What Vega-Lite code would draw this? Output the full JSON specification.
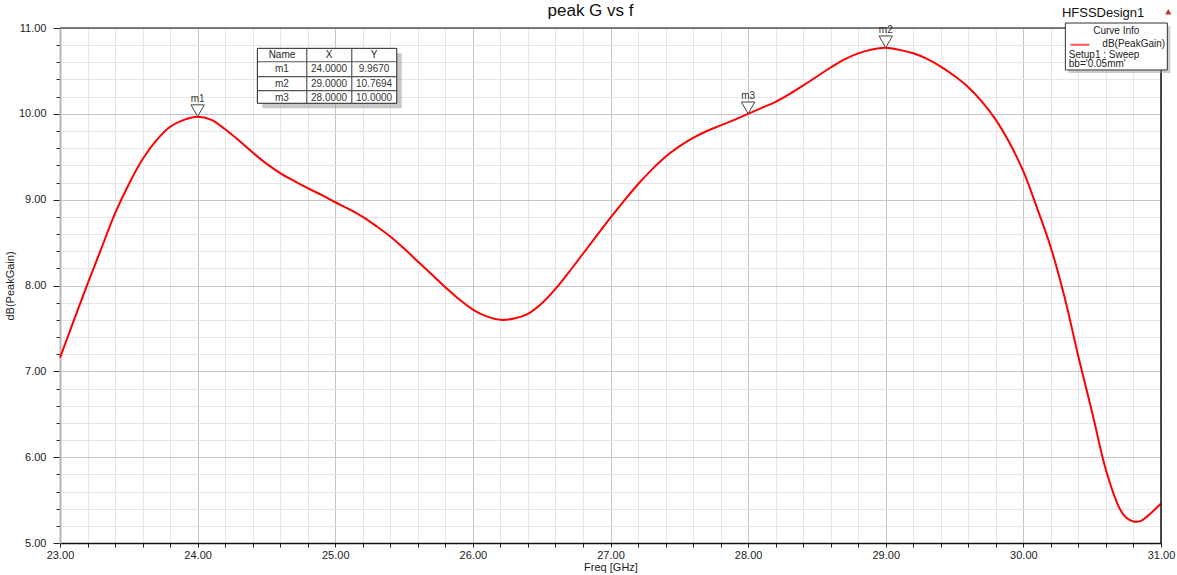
{
  "$schema": "https://vega.github.io/schema/vega-lite/v6.json",
  "width": 1101,
  "height": 515,
  "autosize": {"type": "none"},
  "padding": {"left": 60, "top": 28, "right": 16, "bottom": 32},
  "background": "white",
  "config": {
    "font": "Liberation Sans",
    "view": {"stroke": null},
    "text": {"font": "Liberation Sans"}
  },
  "title": {
    "text": "peak G vs f",
    "fontSize": 17,
    "fontWeight": "normal",
    "color": "#111",
    "anchor": "middle",
    "frame": "group",
    "baseline": "alphabetic",
    "offset": -15,
    "dx": -20,
    "dy": 11
  },
  "datasets": {
    "gain": [
      {"f": 23.0, "g": 7.16}, {"f": 23.1, "g": 7.59}, {"f": 23.2, "g": 8.02}, {"f": 23.3, "g": 8.43},
      {"f": 23.4, "g": 8.84}, {"f": 23.5, "g": 9.18}, {"f": 23.6, "g": 9.47}, {"f": 23.7, "g": 9.69},
      {"f": 23.8, "g": 9.85}, {"f": 23.9, "g": 9.93}, {"f": 24.0, "g": 9.967}, {"f": 24.1, "g": 9.93},
      {"f": 24.2, "g": 9.82}, {"f": 24.3, "g": 9.69}, {"f": 24.4, "g": 9.55}, {"f": 24.5, "g": 9.42},
      {"f": 24.6, "g": 9.31}, {"f": 24.7, "g": 9.22}, {"f": 24.8, "g": 9.135}, {"f": 24.9, "g": 9.055},
      {"f": 25.0, "g": 8.97}, {"f": 25.1, "g": 8.89}, {"f": 25.2, "g": 8.8}, {"f": 25.3, "g": 8.69},
      {"f": 25.4, "g": 8.57}, {"f": 25.5, "g": 8.43}, {"f": 25.6, "g": 8.28}, {"f": 25.7, "g": 8.13},
      {"f": 25.8, "g": 7.98}, {"f": 25.9, "g": 7.84}, {"f": 26.0, "g": 7.72}, {"f": 26.1, "g": 7.64},
      {"f": 26.2, "g": 7.6}, {"f": 26.3, "g": 7.615}, {"f": 26.4, "g": 7.67}, {"f": 26.5, "g": 7.79},
      {"f": 26.6, "g": 7.96}, {"f": 26.7, "g": 8.16}, {"f": 26.8, "g": 8.37}, {"f": 26.9, "g": 8.58},
      {"f": 27.0, "g": 8.79}, {"f": 27.1, "g": 8.99}, {"f": 27.2, "g": 9.18}, {"f": 27.3, "g": 9.35},
      {"f": 27.4, "g": 9.5}, {"f": 27.5, "g": 9.62}, {"f": 27.6, "g": 9.72}, {"f": 27.7, "g": 9.8},
      {"f": 27.8, "g": 9.865}, {"f": 27.9, "g": 9.93}, {"f": 28.0, "g": 10.0}, {"f": 28.1, "g": 10.07},
      {"f": 28.2, "g": 10.14}, {"f": 28.3, "g": 10.23}, {"f": 28.4, "g": 10.33}, {"f": 28.5, "g": 10.435},
      {"f": 28.6, "g": 10.54}, {"f": 28.7, "g": 10.635}, {"f": 28.8, "g": 10.705}, {"f": 28.9, "g": 10.75},
      {"f": 29.0, "g": 10.7694}, {"f": 29.1, "g": 10.745}, {"f": 29.2, "g": 10.705}, {"f": 29.3, "g": 10.64},
      {"f": 29.4, "g": 10.55}, {"f": 29.5, "g": 10.44}, {"f": 29.6, "g": 10.31}, {"f": 29.7, "g": 10.14},
      {"f": 29.8, "g": 9.93}, {"f": 29.9, "g": 9.66}, {"f": 30.0, "g": 9.33}, {"f": 30.1, "g": 8.9},
      {"f": 30.2, "g": 8.44}, {"f": 30.3, "g": 7.86}, {"f": 30.4, "g": 7.17}, {"f": 30.5, "g": 6.52},
      {"f": 30.6, "g": 5.85}, {"f": 30.7, "g": 5.4}, {"f": 30.75, "g": 5.29}, {"f": 30.8, "g": 5.25},
      {"f": 30.85, "g": 5.255}, {"f": 30.9, "g": 5.31}, {"f": 31.0, "g": 5.46}
    ],
    "markers": [
      {"name": "m1", "freq": 24, "gain": 9.967},
      {"name": "m2", "freq": 29, "gain": 10.7694},
      {"name": "m3", "freq": 28, "gain": 10.0}
    ]
  },
  "layer": [
    {
      "data": {"name": "gain"},
      "mark": {"type": "line", "color": "#ff0000", "strokeWidth": 2, "interpolate": "catmull-rom"},
      "encoding": {
        "x": {
          "field": "f",
          "type": "quantitative",
          "scale": {"domain": [23, 31], "nice": false, "zero": false},
          "axis": {
            "title": "Freq [GHz]",
            "values": [23, 23.2, 23.4, 23.6, 23.8, 24, 24.2, 24.4, 24.6, 24.8, 25, 25.2, 25.4, 25.6, 25.8, 26, 26.2, 26.4, 26.6, 26.8, 27, 27.2, 27.4, 27.6, 27.8, 28, 28.2, 28.4, 28.6, 28.8, 29, 29.2, 29.4, 29.6, 29.8, 30, 30.2, 30.4, 30.6, 30.8, 31],
            "tickCount": 200,
            "labelExpr": "datum.value % 1 === 0 ? format(datum.value, '.2f') : ''",
            "labelOverlap": false,
            "labelFlush": false,
            "labelFontSize": 11,
            "labelColor": "#222",
            "labelPadding": 2,
            "tickSize": 4,
            "tickColor": "#222",
            "domainColor": "#111",
            "domainWidth": 1.5,
            "grid": true,
            "gridColor": {"condition": {"test": "datum.value % 1 === 0", "value": "#c6c6c6"}, "value": "#e6e6e6"},
            "gridWidth": 1,
            "titleFontSize": 11,
            "titleFontWeight": "normal",
            "titleColor": "#222",
            "titlePadding": 1
          }
        },
        "y": {
          "field": "g",
          "type": "quantitative",
          "scale": {"domain": [5, 11], "nice": false, "zero": false},
          "axis": {
            "title": "dB(PeakGain)",
            "values": [5, 5.2, 5.4, 5.6, 5.8, 6, 6.2, 6.4, 6.6, 6.8, 7, 7.2, 7.4, 7.6, 7.8, 8, 8.2, 8.4, 8.6, 8.8, 9, 9.2, 9.4, 9.6, 9.8, 10, 10.2, 10.4, 10.6, 10.8, 11],
            "tickCount": 200,
            "labelExpr": "datum.value % 1 === 0 ? format(datum.value, '.2f') : ''",
            "labelOverlap": false,
            "labelFlush": false,
            "labelFontSize": 11,
            "labelColor": "#222",
            "labelPadding": 7,
            "tickSize": {"condition": {"test": "datum.value % 1 === 0", "value": 7}, "value": 4},
            "tickColor": "#222",
            "domainColor": "#b4b4b4",
            "domainWidth": 2,
            "grid": true,
            "gridColor": {"condition": {"test": "datum.value % 1 === 0", "value": "#c6c6c6"}, "value": "#e6e6e6"},
            "gridWidth": 1,
            "titleFontSize": 11,
            "titleFontWeight": "normal",
            "titleColor": "#222",
            "titlePadding": 3
          }
        }
      }
    },
    {
      "data": {"values": [{}]},
      "mark": {"type": "rule", "color": "#555", "strokeWidth": 1.5},
      "encoding": {"x": {"datum": 23}, "x2": {"datum": 31}, "y": {"datum": 11}}
    },
    {
      "data": {"values": [{}]},
      "mark": {"type": "rule", "color": "#111", "strokeWidth": 1.5},
      "encoding": {"x": {"datum": 31}, "y": {"datum": 5}, "y2": {"datum": 11}}
    },
    {
      "data": {"name": "markers"},
      "mark": {"type": "point", "shape": "triangle-down", "filled": true, "fill": "white", "stroke": "#444", "strokeWidth": 1, "size": 180, "opacity": 1, "yOffset": -6},
      "encoding": {
        "x": {"field": "freq", "type": "quantitative"},
        "y": {"field": "gain", "type": "quantitative"}
      }
    },
    {
      "data": {"name": "markers"},
      "mark": {"type": "text", "fontSize": 10, "color": "#333", "baseline": "alphabetic", "yOffset": -15},
      "encoding": {
        "x": {"field": "freq", "type": "quantitative"},
        "y": {"field": "gain", "type": "quantitative"},
        "text": {"field": "name"}
      }
    },
    {
      "data": {"values": [{}]},
      "mark": {"type": "rect", "fill": "#9a9a9a", "opacity": 0.55, "xOffset": 5, "x2Offset": 5, "yOffset": 5, "y2Offset": 5},
      "encoding": {"x": {"datum": 24.434}, "x2": {"datum": 25.447}, "y": {"datum": 10.763}, "y2": {"datum": 10.123}}
    },
    {
      "data": {"values": [{}]},
      "mark": {"type": "rect", "fill": "white", "stroke": "#222", "strokeWidth": 1},
      "encoding": {"x": {"datum": 24.434}, "x2": {"datum": 25.447}, "y": {"datum": 10.763}, "y2": {"datum": 10.123}}
    },
    {
      "data": {"values": [{"at": 24.793}, {"at": 25.12}]},
      "mark": {"type": "rule", "color": "#555", "strokeWidth": 1.2},
      "encoding": {"x": {"field": "at", "type": "quantitative"}, "y": {"datum": 10.763}, "y2": {"datum": 10.123}}
    },
    {
      "data": {"values": [{"at": 10.607}, {"at": 10.433}, {"at": 10.27}]},
      "mark": {"type": "rule", "color": "#555", "strokeWidth": 1.2},
      "encoding": {"y": {"field": "at", "type": "quantitative"}, "x": {"datum": 24.434}, "x2": {"datum": 25.447}}
    },
    {
      "data": {"values": [{"head": "Name", "col": 24.613}, {"head": "X", "col": 24.955}, {"head": "Y", "col": 25.282}]},
      "mark": {"type": "text", "fontSize": 10, "color": "#222", "baseline": "middle"},
      "encoding": {"x": {"field": "col", "type": "quantitative"}, "y": {"datum": 10.685}, "text": {"field": "head"}}
    },
    {
      "data": {"name": "markers"},
      "transform": [{"filter": "datum.name === 'm1'"}],
      "encoding": {"y": {"datum": 10.52}},
      "layer": [
        {"mark": {"type": "text", "fontSize": 10, "color": "#333", "baseline": "middle"}, "encoding": {"x": {"datum": 24.613}, "text": {"field": "name"}}},
        {"mark": {"type": "text", "fontSize": 10, "color": "#333", "baseline": "middle"}, "encoding": {"x": {"datum": 24.955}, "text": {"field": "freq", "type": "quantitative", "format": ".4f"}}},
        {"mark": {"type": "text", "fontSize": 10, "color": "#333", "baseline": "middle"}, "encoding": {"x": {"datum": 25.282}, "text": {"field": "gain", "type": "quantitative", "format": ".4f"}}}
      ]
    },
    {
      "data": {"name": "markers"},
      "transform": [{"filter": "datum.name === 'm2'"}],
      "encoding": {"y": {"datum": 10.351}},
      "layer": [
        {"mark": {"type": "text", "fontSize": 10, "color": "#333", "baseline": "middle"}, "encoding": {"x": {"datum": 24.613}, "text": {"field": "name"}}},
        {"mark": {"type": "text", "fontSize": 10, "color": "#333", "baseline": "middle"}, "encoding": {"x": {"datum": 24.955}, "text": {"field": "freq", "type": "quantitative", "format": ".4f"}}},
        {"mark": {"type": "text", "fontSize": 10, "color": "#333", "baseline": "middle"}, "encoding": {"x": {"datum": 25.282}, "text": {"field": "gain", "type": "quantitative", "format": ".4f"}}}
      ]
    },
    {
      "data": {"name": "markers"},
      "transform": [{"filter": "datum.name === 'm3'"}],
      "encoding": {"y": {"datum": 10.19}},
      "layer": [
        {"mark": {"type": "text", "fontSize": 10, "color": "#333", "baseline": "middle"}, "encoding": {"x": {"datum": 24.613}, "text": {"field": "name"}}},
        {"mark": {"type": "text", "fontSize": 10, "color": "#333", "baseline": "middle"}, "encoding": {"x": {"datum": 24.955}, "text": {"field": "freq", "type": "quantitative", "format": ".4f"}}},
        {"mark": {"type": "text", "fontSize": 10, "color": "#333", "baseline": "middle"}, "encoding": {"x": {"datum": 25.282}, "text": {"field": "gain", "type": "quantitative", "format": ".4f"}}}
      ]
    },
    {
      "data": {"values": [{}]},
      "mark": {"type": "rect", "fill": "#9a9a9a", "opacity": 0.5, "xOffset": 3, "x2Offset": 3, "yOffset": 3, "y2Offset": 3},
      "encoding": {"x": {"datum": 30.305}, "x2": {"datum": 31.046}, "y": {"datum": 11.058}, "y2": {"datum": 10.511}}
    },
    {
      "data": {"values": [{}]},
      "mark": {"type": "rect", "fill": "white", "stroke": "#333", "strokeWidth": 1},
      "encoding": {"x": {"datum": 30.305}, "x2": {"datum": 31.046}, "y": {"datum": 11.058}, "y2": {"datum": 10.511}}
    },
    {
      "data": {"values": [{}]},
      "mark": {"type": "text", "text": "Curve Info", "fontSize": 10, "color": "#222", "baseline": "middle", "align": "center"},
      "encoding": {"x": {"datum": 30.675}, "y": {"datum": 10.967}}
    },
    {
      "data": {"values": [{}]},
      "mark": {"type": "rule", "color": "#ff5050", "strokeWidth": 2},
      "encoding": {"x": {"datum": 30.342}, "x2": {"datum": 30.48}, "y": {"datum": 10.805}}
    },
    {
      "data": {"values": [{}]},
      "mark": {"type": "text", "text": "dB(PeakGain)", "fontSize": 10, "color": "#222", "baseline": "middle", "align": "right"},
      "encoding": {"x": {"datum": 31.03}, "y": {"datum": 10.815}}
    },
    {
      "data": {"values": [{}]},
      "mark": {"type": "text", "text": ["Setup1 : Sweep", "bb='0.05mm'"], "fontSize": 10, "lineHeight": 9, "color": "#222", "baseline": "top", "align": "left"},
      "encoding": {"x": {"datum": 30.33}, "y": {"datum": 10.745}}
    },
    {
      "data": {"values": [{}]},
      "mark": {"type": "text", "text": "HFSSDesign1", "fontSize": 13, "color": "#111", "baseline": "alphabetic", "align": "left"},
      "encoding": {"x": {"datum": 30.28}, "y": {"datum": 11.132}}
    },
    {
      "data": {"values": [{}]},
      "mark": {"type": "point", "shape": "triangle-up", "filled": true, "color": "#c0392b", "size": 40, "opacity": 1},
      "encoding": {"x": {"datum": 31.053}, "y": {"datum": 11.19}}
    }
  ]
}
